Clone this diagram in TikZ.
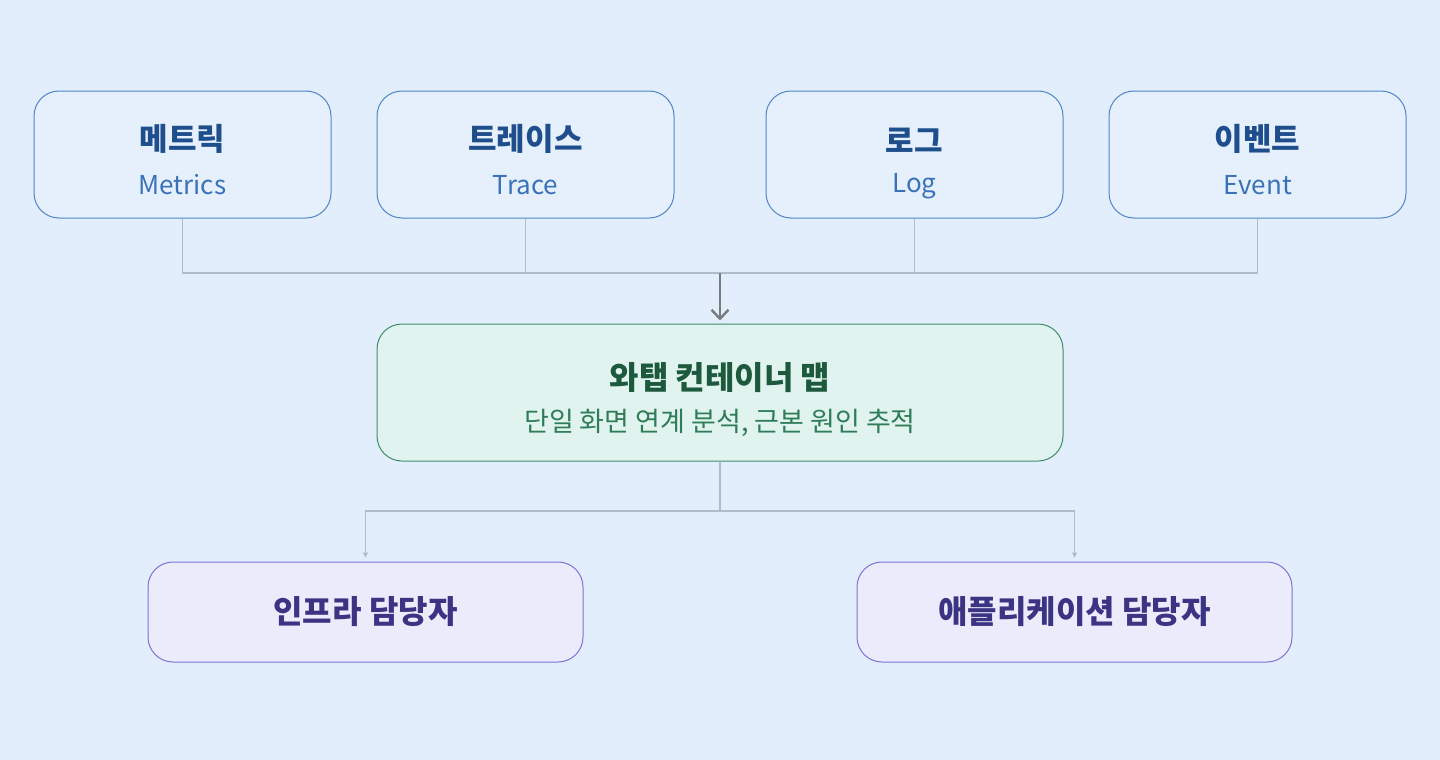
\documentclass[tikz,border=0pt]{standalone}
\usepackage{fontspec}
\setmainfont{Noto Sans CJK KR}
\usetikzlibrary{arrows.meta}
\definecolor{bg}{HTML}{E3EEFC}
\definecolor{topfill}{HTML}{E6F0FC}
\definecolor{topdraw}{HTML}{4F86C6}
\definecolor{toptitle}{HTML}{1F4E8C}
\definecolor{topsub}{HTML}{3A72B8}
\definecolor{midfill}{HTML}{E0F3EE}
\definecolor{middraw}{HTML}{3F8C6C}
\definecolor{midtitle}{HTML}{1D5A3D}
\definecolor{midsub}{HTML}{2F7D58}
\definecolor{botfill}{HTML}{ECEBFB}
\definecolor{botdraw}{HTML}{7D72D2}
\definecolor{bottext}{HTML}{3B3483}
\definecolor{conn}{HTML}{AEBBCB}
\definecolor{mainarrow}{HTML}{7A7A7A}
\tikzset{
  x=1pt, y=-1pt,
  srcbox/.style={draw=topdraw, fill=topfill, line width=1pt, rounded corners=25pt,
    minimum width=297pt, minimum height=127pt, align=center, inner sep=0pt},
  midbox/.style={draw=middraw, fill=midfill, line width=1pt, rounded corners=25pt,
    minimum width=686pt, minimum height=137pt, align=center, inner sep=0pt},
  rolebox/.style={draw=botdraw, fill=botfill, line width=1pt, rounded corners=25pt,
    minimum width=435pt, minimum height=100pt, align=center, inner sep=0pt},
  conline/.style={draw=conn, line width=1.3pt},
}
\newcommand{\srclabel}[2]{{\fontsize{31}{36}\selectfont\bfseries\color{toptitle}\rule{0pt}{44pt}#1}\\[20pt]{\fontsize{26}{30}\selectfont\color{topsub}#2\rule[-8pt]{0pt}{0pt}}}
\begin{document}
\begin{tikzpicture}
\fill[bg] (0,0) rectangle (1440,760);
\useasboundingbox (0,0) rectangle (1440,760);
\node[srcbox] (met) at (182.5,154.5) {\srclabel{메트릭}{Metrics}};
\node[srcbox] (tra) at (525.5,154.5) {\srclabel{트레이스}{Trace}};
\node[srcbox] (log) at (914.5,154.5) {\srclabel{로그}{Log}};
\node[srcbox] (evt) at (1257.5,154.5) {\srclabel{이벤트}{Event}};
\node[midbox] (map) at (720,392.5) {{\fontsize{32}{37}\selectfont\bfseries\color{midtitle}\rule{0pt}{44pt}와탭 컨테이너 맵}\\[15pt]{\fontsize{27}{31}\selectfont\color{midsub}단일 화면 연계 분석, 근본 원인 추적\rule[-8pt]{0pt}{0pt}}};
\node[rolebox] (infra) at (365.5,612) {\fontsize{32}{37}\selectfont\bfseries\color{bottext}인프라 담당자};
\node[rolebox] (app) at (1074.5,612) {\fontsize{32}{37}\selectfont\bfseries\color{bottext}애플리케이션 담당자};
\coordinate (bus) at (720,273);
\coordinate (split) at (720,511);
\draw[conline] (met.south) |- (bus);
\draw[conline] (evt.south) |- (bus);
\draw[conline] (tra.south) -- (tra.south |- bus);
\draw[conline] (log.south) -- (log.south |- bus);
\draw[draw=mainarrow, line width=2.6pt, -{Straight Barb[length=9pt, width=17pt, line width=2.4pt]}] (bus) -- ([yshift=3pt]map.north);
\draw[conline] (map.south) -- (split);
\draw[conline, -{Triangle[length=5pt,width=5pt]}] (split) -| ([yshift=4pt]infra.north);
\draw[conline, -{Triangle[length=5pt,width=5pt]}] (split) -| ([yshift=4pt]app.north);
\end{tikzpicture}
\end{document}
